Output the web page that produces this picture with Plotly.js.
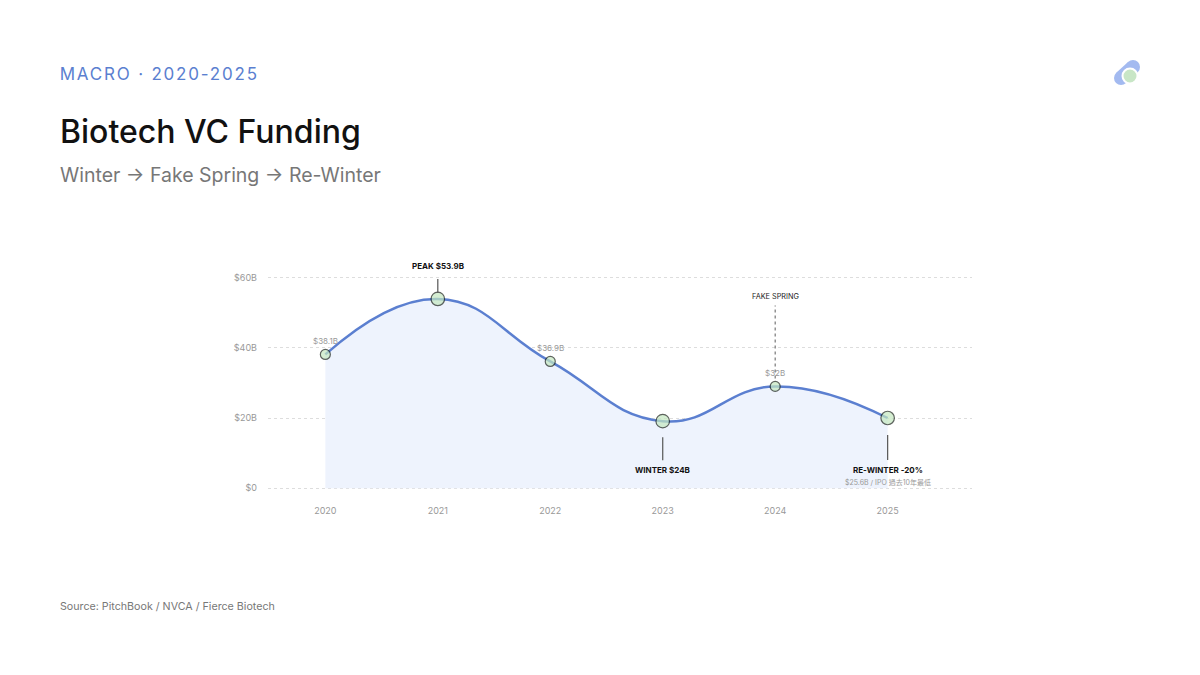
<!DOCTYPE html>
<html>
<head>
<meta charset="utf-8">
<script src="https://cdn.plot.ly/plotly-3.0.1.min.js"></script>
<style>
html,body{margin:0;padding:0;background:#fff;}
#chart{width:1200px;height:675px;}
.annotation[data-index="0"] text{letter-spacing:1.8px;}
</style>
</head>
<body>
<div id="chart"></div>
<script>
// ---- data ----
const years = [2020, 2021, 2022, 2023, 2024, 2025];
const funding = [38.1, 53.9, 36.1, 19.1, 29.0, 20.0];
const pointLabels = ["$38.1B", "PEAK $53.9B", "$36.9B", "WINTER $24B", "$32B", "RE-WINTER -20%"];
const noteLabel = "$25.6B / IPO 過去10年最低";
const phaseLabel = "FAKE SPRING";
const yTickVals = [0, 20, 40, 60];
const yTickText = ["$0", "$20B", "$40B", "$60B"];
const keyPoint = [false, true, false, true, false, true];

const FONT = "Inter, 'Noto Sans', 'Noto Sans CJK TC', sans-serif";
const BLUE = "#5b7fd0";

// plot area in pixels
const ML = 268, MR = 228, MT = 274, MB = 185;
const PW = 1200 - ML - MR, PH = 675 - MT - MB;
function px(x){return (x - ML)/PW;}
function py(y){return (675 - MB - y)/PH;}

const trace = {
  x: years, y: funding, type: "scatter", mode: "lines+markers",
  line: {shape: "spline", smoothing: 1.3, color: BLUE, width: 2.5},
  fill: "tozeroy", fillcolor: "#eef3fd",
  marker: {
    size: keyPoint.map(k => k ? 13.5 : 10),
    color: "#c4e8c0",
    line: {color: "#1a221a", width: 1.2}
  },
  cliponaxis: false, hoverinfo: "skip"
};

const ann = [];
ann.push({text: "MACRO · 2020-2025", xref:"paper", yref:"paper", x:px(73), y:py(74), xanchor:"left", yanchor:"middle", showarrow:false, font:{family:FONT, size:17, color:BLUE}});
ann.push({text: "Biotech VC Funding", xref:"paper", yref:"paper", x:px(58), y:py(131), xanchor:"left", yanchor:"middle", showarrow:false, font:{family:FONT, size:32, color:"#111", weight:500}});
ann.push({text: "Winter → Fake Spring → Re-Winter", xref:"paper", yref:"paper", x:px(58), y:py(175), xanchor:"left", yanchor:"middle", showarrow:false, font:{family:FONT, size:19.5, color:"#777"}});
ann.push({text: "Source: PitchBook / NVCA / Fierce Biotech", xref:"paper", yref:"paper", x:px(58), y:py(606), xanchor:"left", yanchor:"middle", showarrow:false, font:{family:FONT, size:10.7, color:"#777"}});

// point labels
const shifts = [13, 33, 13, -49, 13, -52];
years.forEach((yr, i) => {
  const bold = keyPoint[i];
  ann.push({text: pointLabels[i], x: yr, y: funding[i], xref:"x", yref:"y", yshift: shifts[i], showarrow:false,
    font:{family:FONT, size: 8, color: bold ? "#111" : "#999", weight: bold ? 700 : 400}});
});
ann.push({text: noteLabel, x: years[5], y: funding[5], xref:"x", yref:"y", yshift:-64, showarrow:false, font:{family:FONT, size:7, color:"#999"}});
ann.push({text: phaseLabel, x: years[4], y: funding[4], xref:"x", yref:"y", yshift:90, showarrow:false, font:{family:FONT, size:7.3, color:"#222"}});

const shapes = [
  {type:"line", xref:"x", x0:years[1], x1:years[1], yref:"y", ysizemode:"pixel", yanchor:funding[1], y0:6, y1:20, line:{color:"#555", width:1.2}},
  {type:"line", xref:"x", x0:years[3], x1:years[3], yref:"y", ysizemode:"pixel", yanchor:funding[3], y0:-16, y1:-39, line:{color:"#555", width:1.2}},
  {type:"line", xref:"x", x0:years[5], x1:years[5], yref:"y", ysizemode:"pixel", yanchor:funding[5], y0:-17, y1:-42, line:{color:"#555", width:1.2}},
  {type:"line", xref:"x", x0:years[4], x1:years[4], yref:"y", ysizemode:"pixel", yanchor:funding[4], y0:8, y1:81, line:{color:"#777", width:1.2, dash:"dot"}},
  // logo
  {type:"line", xref:"paper", yref:"paper", x0:px(1133), y0:py(67), x1:px(1121), y1:py(78), line:{color:"#a3baf0", width:14}},
  {type:"circle", xref:"paper", yref:"paper", xsizemode:"pixel", ysizemode:"pixel", xanchor:px(1133), yanchor:py(67), x0:-7, x1:7, y0:-7, y1:7, fillcolor:"#a3baf0", line:{width:0}},
  {type:"circle", xref:"paper", yref:"paper", xsizemode:"pixel", ysizemode:"pixel", xanchor:px(1121), yanchor:py(78), x0:-7, x1:7, y0:-7, y1:7, fillcolor:"#a3baf0", line:{width:0}},
  {type:"circle", xref:"paper", yref:"paper", xsizemode:"pixel", ysizemode:"pixel", xanchor:px(1130), yanchor:py(76), x0:-7.5, x1:7.5, y0:-7.5, y1:7.5, fillcolor:"#c8e6c6", line:{color:"#fff", width:2}}
];

const layout = {
  width:1200, height:675,
  paper_bgcolor:"#fff", plot_bgcolor:"#fff",
  margin:{l:ML, r:MR, t:MT, b:MB},
  showlegend:false,
  xaxis:{range:[2019.49, 2025.75], tickvals: years, ticktext: years.map(String), showgrid:false, zeroline:false, showline:false,
    ticks:"", ticklabelstandoff:14, tickfont:{family:FONT, size:9, color:"#999"}},
  yaxis:{range:[-0.5, 61], tickvals: yTickVals, ticktext: yTickText, showgrid:true, gridcolor:"#dddddd", griddash:"dot", gridwidth:1,
    zeroline:false, showline:false, ticks:"", ticklabelstandoff:10, tickfont:{family:FONT, size:9, color:"#999"}},
  annotations: ann,
  shapes: shapes
};

Plotly.newPlot("chart", [trace], layout, {displayModeBar:false, staticPlot:true});
</script>
</body>
</html>
